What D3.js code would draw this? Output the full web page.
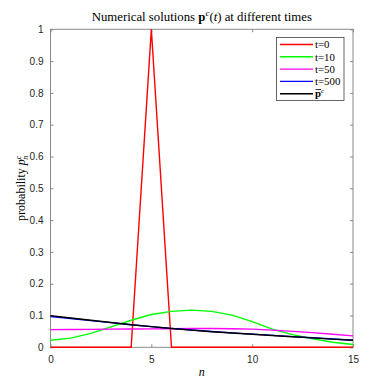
<!DOCTYPE html>
<meta charset="utf-8">
<style>
body { margin: 0; background: #fff; }
.tick text { font-family: "Liberation Sans", Arial, sans-serif; font-size: 10px; fill: #262626; }
.serif { font-family: "Liberation Serif", "DejaVu Serif", serif; fill: #000; }
</style>
<svg width="390" height="390"></svg>
<script src="https://d3js.org/d3.v7.min.js"></script>
<script>

var nValues = d3.range(0, 16);
var p_t0   = [0, 0, 0, 0, 0, 1, 0, 0, 0, 0, 0, 0, 0, 0, 0, 0];
var p_t10  = [0.022, 0.029, 0.044, 0.064, 0.085, 0.103, 0.113, 0.117, 0.113, 0.101, 0.081, 0.057, 0.040, 0.027, 0.016, 0.009];
var p_t50  = [0.0555, 0.056, 0.0565, 0.057, 0.0575, 0.058, 0.0585, 0.059, 0.059, 0.0585, 0.057, 0.054, 0.050, 0.046, 0.041, 0.036];
var p_t500 = [0.097, 0.0905, 0.084, 0.0775, 0.071, 0.065, 0.0595, 0.0545, 0.0495, 0.0455, 0.0415, 0.0375, 0.0335, 0.0300, 0.0262, 0.0224];
var p_bar  = [0.0995, 0.092, 0.085, 0.078, 0.071, 0.065, 0.059, 0.054, 0.049, 0.045, 0.041, 0.037, 0.033, 0.0295, 0.0258, 0.022];

var seriesNames  = ["t=0", "t=10", "t=50", "t=500", "pbar"];
var seriesColors = ["#ff0000", "#00ff00", "#ff00ff", "#0000ff", "#000000"];
var seriesData   = [p_t0, p_t10, p_t50, p_t500, p_bar];

var xTicks = [0, 5, 10, 15];
var yTicks = d3.range(0, 11).map(function(i) { return i / 10; });

var svg = d3.select("svg");
var mLeft = 50.5, mRight = 353, mTop = 29.3, mBottom = 347.3;

var x = d3.scaleLinear().domain([0, 15]).range([mLeft, mRight]);
var y = d3.scaleLinear().domain([0, 1]).range([mBottom, mTop]);

// axes (MATLAB style box, ticks inward)
var axisColor = "#8a8a8a";
function styleAxis(g) {
  g.select(".domain").remove();
  g.selectAll(".tick line").attr("stroke", axisColor);
}
svg.append("g").attr("transform", "translate(0," + mBottom + ")")
  .call(d3.axisBottom(x).tickValues(xTicks).tickSize(-3).tickPadding(9).tickFormat(d3.format("d")))
  .call(styleAxis);
svg.append("g").attr("transform", "translate(0," + mTop + ")")
  .call(d3.axisTop(x).tickValues(xTicks).tickSize(-3).tickFormat(""))
  .call(styleAxis);
svg.append("g").attr("transform", "translate(" + mLeft + ",0)")
  .call(d3.axisLeft(y).tickValues(yTicks).tickSize(-3).tickPadding(7).tickFormat(function(d) { return d === 0 ? "0" : d === 1 ? "1" : d3.format(".1f")(d); }))
  .call(styleAxis);
svg.append("g").attr("transform", "translate(" + mRight + ",0)")
  .call(d3.axisRight(y).tickValues(yTicks).tickSize(-3).tickFormat(""))
  .call(styleAxis);

svg.append("rect")
  .attr("x", mLeft).attr("y", mTop)
  .attr("width", mRight - mLeft).attr("height", mBottom - mTop)
  .attr("fill", "none").attr("stroke", axisColor).attr("stroke-width", 1);

// series
var line = d3.line()
  .x(function(d, i) { return x(nValues[i]); })
  .y(function(d) { return y(d); });

seriesData.forEach(function(s, i) {
  svg.append("path")
    .datum(s)
    .attr("d", line)
    .attr("fill", "none")
    .attr("stroke", seriesColors[i])
    .attr("stroke-width", 1.4);
});

// title
var title = svg.append("text").attr("class", "serif")
  .attr("x", (mLeft + mRight) / 2).attr("y", 21)
  .attr("text-anchor", "middle").style("font-size", "12.8px");
title.append("tspan").text("Numerical solutions ");
title.append("tspan").style("font-weight", "bold").text("p");
title.append("tspan").attr("dy", -5).style("font-size", "9px").style("font-style", "italic").text("c");
title.append("tspan").attr("dy", 5).text("(");
title.append("tspan").style("font-style", "italic").text("t");
title.append("tspan").text(") at different times");

// x label
svg.append("text").attr("class", "serif")
  .attr("x", (mLeft + mRight) / 2).attr("y", 376)
  .attr("text-anchor", "middle").style("font-size", "12px").style("font-style", "italic")
  .text("n");

// y label
var ylab = svg.append("text").attr("class", "serif")
  .attr("transform", "translate(25," + ((mTop + mBottom) / 2) + ") rotate(-90)")
  .attr("text-anchor", "middle").style("font-size", "12px");
ylab.append("tspan").text("probability ");
ylab.append("tspan").style("font-style", "italic").text("p");
ylab.append("tspan").attr("dy", -4).style("font-size", "8px").style("font-style", "italic").text("c");
ylab.append("tspan").attr("dy", 7).attr("dx", -4).style("font-size", "8px").style("font-style", "italic").text("n");

// legend
var lg = svg.append("g");
lg.append("rect")
  .attr("x", 276.5).attr("y", 37.5).attr("width", 67.5).attr("height", 63)
  .attr("fill", "#fff").attr("stroke", "#262626").attr("stroke-width", 0.7);
seriesNames.forEach(function(name, i) {
  var yy = 44.5 + i * 12.3;
  lg.append("line")
    .attr("x1", 280).attr("x2", 313).attr("y1", yy).attr("y2", yy)
    .attr("stroke", seriesColors[i]).attr("stroke-width", 1.4);
  var t = lg.append("text").attr("class", "serif")
    .attr("x", 315).attr("y", yy + 3.7).style("font-size", "10.8px");
  if (name === "pbar") {
    t.append("tspan").style("font-weight", "bold").text("p");
    t.append("tspan").attr("dy", -4).style("font-size", "7px").style("font-style", "italic").text("c");
    // bar over the p
    lg.append("line")
      .attr("x1", 315.5).attr("x2", 321).attr("y1", yy - 4.2).attr("y2", yy - 4.2)
      .attr("stroke", "#000").attr("stroke-width", 0.8);
  } else {
    t.text(name);
  }
});
</script>
